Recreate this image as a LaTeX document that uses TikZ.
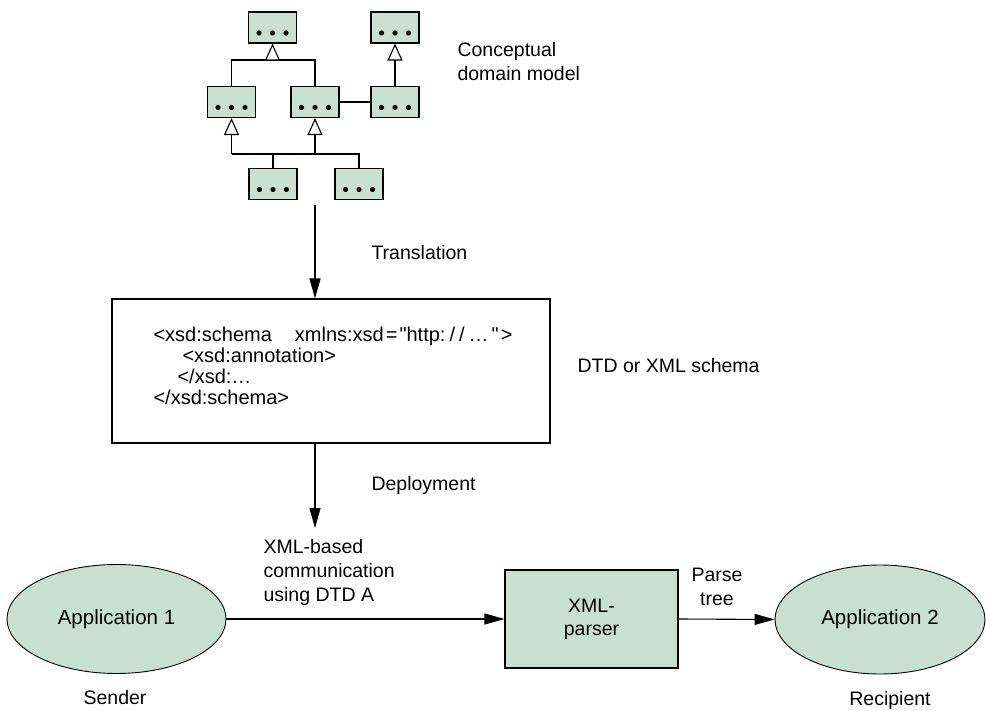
\documentclass[tikz,border=0pt]{standalone}
\usepackage{fontspec}
\setmainfont{Liberation Sans}
\usetikzlibrary{arrows.meta,shapes.geometric,calc}
\definecolor{boxfill}{RGB}{200,223,212}
\begin{document}
\begin{tikzpicture}[x=1pt,y=-1pt,
  line width=1.1pt,
  cls/.style={draw, fill=boxfill, minimum width=48pt, minimum height=31pt, inner sep=0pt},
  gen/.style={-{Triangle[open,fill=white,length=17pt,width=15pt]}},
  arr/.style={-{Triangle[length=20pt,width=11pt]}},
  lbl/.style={font=\fontsize{19.5pt}{24pt}\selectfont, inner sep=0pt},
  codeline/.style={font=\fontsize{20pt}{21pt}\selectfont, inner sep=0pt, anchor=base west},
  app/.style={ellipse, draw, line width=0.9pt, fill=boxfill, inner sep=0pt, font=\fontsize{20.5pt}{24pt}\selectfont},
]
\useasboundingbox (0,0) rectangle (986,711);

% conceptual domain model
\node[cls] (A) at (272.5,27.5) {};
\node[cls] (B) at (395,27.5) {};
\node[cls] (C) at (231.5,102) {};
\node[cls] (D) at (315,102) {};
\node[cls] (E) at (395,102) {};
\node[cls] (F) at (273,184) {};
\node[cls] (G) at (359,184) {};
\foreach \b in {A,B,C,D,E,F,G}
  \foreach \dx in {-13.5,0,13.5}
    \fill ($(\b.center)+(\dx,5.5)$) circle (2.6pt);

\coordinate (a1) at (272.5,60);
\draw (C.north) |- (a1) -| (D.north);
\draw[gen] (a1) -- (A.south);
\draw[gen] (E.north) -- (B.south);
\draw (D.east) -- (E.west);

\coordinate (b1) at (231.5,154);
\coordinate (b2) at (315,154);
\draw (b1) -- (G.north |- b1) -- (G.north);
\draw (F.north) -- (F.north |- b1);
\draw[gen] (b1) -- (C.south);
\draw[gen] (b2) -- (D.south);

\node[lbl, anchor=west, align=left] (cdm) at (457,62) {Conceptual\\domain model};

% translation
\coordinate (tstart) at (315,205);
\node[draw, minimum width=438pt, minimum height=144pt, inner sep=0pt] (schema) at (331,371) {};
\draw[arr] (tstart) -- (tstart |- schema.north);
\node[lbl, anchor=west] (trans) at (371,253) {Translation};

\node[codeline] (c1) at (153,342) {<xsd:schema\hspace{23pt}xmlns:xsd\hspace{2pt}=\hspace{2pt}\textquotedbl http:\hspace{4pt}/\hspace{4pt}/\hspace{4pt}…\hspace{3pt}\textquotedbl\hspace{2pt}>};
\node[codeline] (c2) at (182,363) {<xsd:annotation>};
\node[codeline] (c3) at (177,384) {</xsd:…};
\node[codeline] (c4) at (153,405) {</xsd:schema>};

\node[lbl, anchor=west] (dtd) at (577,366) {DTD or XML schema};

% deployment
\coordinate (dend) at (315,528);
\draw[arr] (tstart |- schema.south) -- (dend);
\node[lbl, anchor=west] (dep) at (371,485) {Deployment};

% communication
\node[app, minimum width=219pt, minimum height=109pt] (app1) at (116.5,619) {Application 1};
\node[draw, fill=boxfill, minimum width=173pt, minimum height=98pt, inner sep=0pt, align=center,
      font=\fontsize{19.5pt}{23pt}\selectfont] (parser) at (591.5,619) {XML-\\parser};
\node[app, minimum width=210pt, minimum height=109pt] (app2) at (880,619.5) {Application 2};

\draw[arr] (app1.east) -- (parser.west);
\draw[arr] (parser.east) -- (app2.west);

\node[lbl, anchor=west, align=left] (xmlb) at (263,572) {XML-based\\communication\\using DTD A};
\node[lbl, align=center] (ptree) at (717,587) {Parse\\tree};
\node[lbl] (send) at (115,698) {Sender};
\node[lbl] (recp) at (890,700) {Recipient};
\end{tikzpicture}
\end{document}
